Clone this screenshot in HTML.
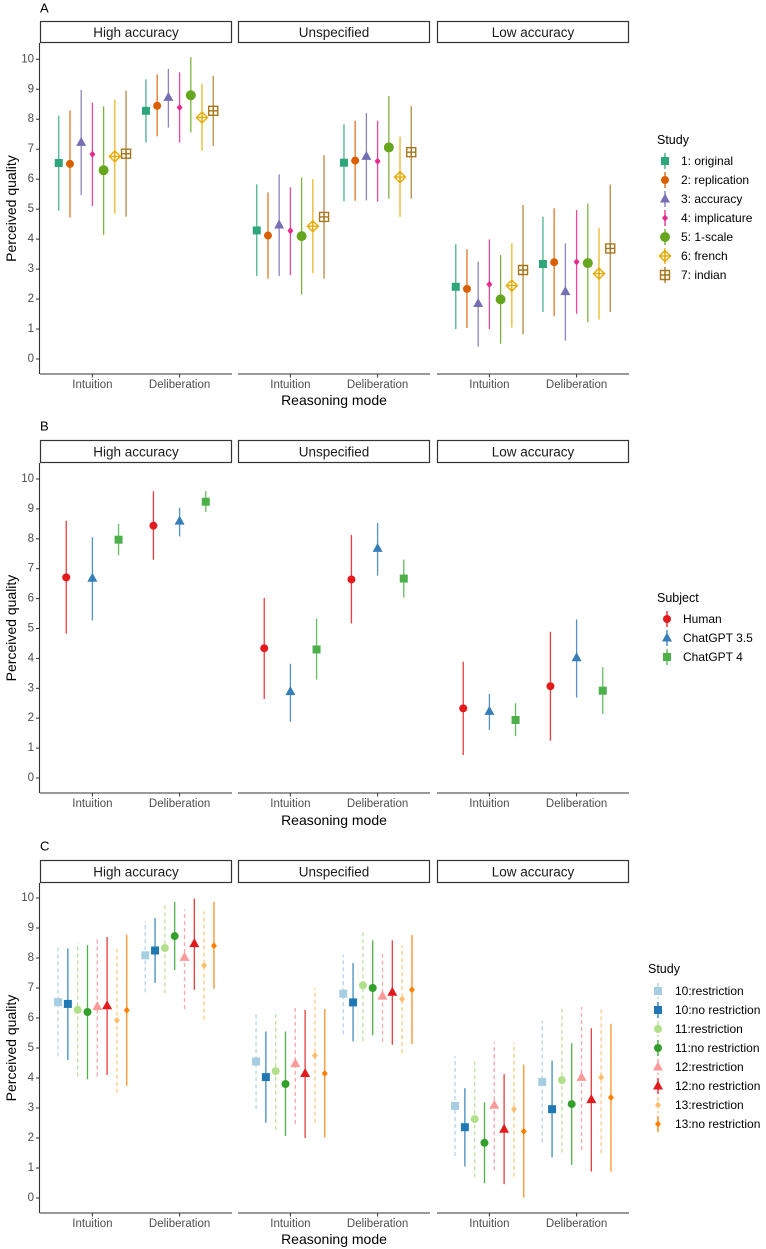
<!DOCTYPE html>
<html><head><meta charset="utf-8"><style>
html,body{margin:0;padding:0;background:#fff;}
svg{display:block;font-family:"Liberation Sans",Arial,sans-serif;}
</style></head><body>
<svg id="chart" width="766" height="1249" viewBox="0 0 766 1249" xmlns="http://www.w3.org/2000/svg"></svg>
<script>
const facets = ["High accuracy","Unspecified","Low accuracy"];
const modes = ["Intuition","Deliberation"];
const yTicks = [0,1,2,3,4,5,6,7,8,9,10];

// Panel A
const seriesA = ["1: original","2: replication","3: accuracy","4: implicature","5: 1-scale","6: french","7: indian"];
// [facet][mode][series] mean / lo / hi
const meanA = [
 [[6.54,6.51,7.23,6.83,6.30,6.76,6.85],[8.28,8.45,8.73,8.39,8.80,8.06,8.28]],
 [[4.29,4.12,4.47,4.28,4.10,4.43,4.74],[6.55,6.62,6.76,6.60,7.06,6.07,6.90]],
 [[2.41,2.34,1.85,2.49,1.99,2.45,2.97],[3.17,3.23,2.25,3.24,3.20,2.85,3.69]]];
const loA = [
 [[4.95,4.72,5.47,5.10,4.14,4.85,4.75],[7.22,7.43,7.72,7.22,7.56,6.95,7.11]],
 [[2.77,2.68,2.77,2.80,2.15,2.86,2.68],[5.26,5.28,5.29,5.25,5.35,4.74,5.35]],
 [[1.00,1.03,0.41,1.00,0.51,1.05,0.82],[1.57,1.43,0.61,1.51,1.23,1.31,1.57]]];
const hiA = [
 [[8.12,8.29,8.98,8.55,8.43,8.66,8.95],[9.33,9.49,9.68,9.57,10.07,9.19,9.45]],
 [[5.83,5.56,6.16,5.73,6.06,6.00,6.80],[7.83,7.95,8.20,7.95,8.78,7.42,8.44]],
 [[3.83,3.66,3.25,3.99,3.47,3.86,5.14],[4.75,5.03,3.86,4.97,5.19,4.38,5.82]]];

// Panel B
const seriesB = ["Human","ChatGPT 3.5","ChatGPT 4"];
const meanB = [[[6.71,6.68,7.97],[8.44,8.59,9.24]],[[4.34,2.89,4.30],[6.64,7.68,6.67]],[[2.33,2.23,1.94],[3.07,4.02,2.92]]];
const loB = [[[4.83,5.27,7.45],[7.30,8.08,8.90]],[[2.64,1.88,3.29],[5.17,6.77,6.03]],[[0.77,1.61,1.40],[1.25,2.69,2.14]]];
const hiB = [[[8.60,8.05,8.50],[9.59,9.04,9.60]],[[6.02,3.82,5.33],[8.13,8.53,7.30]],[[3.89,2.81,2.50],[4.89,5.30,3.71]]];

// Panel C
const seriesC = ["10:restriction","10:no restriction","11:restriction","11:no restriction","12:restriction","12:no restriction","13:restriction","13:no restriction"];
const meanC = [
 [[6.53,6.47,6.27,6.20,6.38,6.41,5.92,6.26],[8.09,8.25,8.33,8.73,8.02,8.48,7.75,8.41]],
 [[4.55,4.03,4.23,3.80,4.48,4.15,4.75,4.15],[6.81,6.52,7.09,7.00,6.73,6.86,6.63,6.94]],
 [[3.07,2.36,2.63,1.84,3.09,2.29,2.96,2.22],[3.87,2.96,3.93,3.13,4.02,3.28,4.02,3.35]]];
const loC = [
 [[4.72,4.60,4.05,3.96,4.05,4.10,3.51,3.74],[6.86,7.17,6.82,7.60,6.30,6.94,5.95,6.97]],
 [[2.96,2.51,2.27,2.07,2.47,2.00,2.51,2.02],[5.46,5.22,5.23,5.42,5.21,5.11,4.83,5.13]],
 [[1.40,1.05,0.69,0.49,0.93,0.46,0.71,0.02],[1.85,1.35,1.51,1.10,1.60,0.88,1.49,0.88]]];
const hiC = [
 [[8.34,8.32,8.50,8.43,8.63,8.70,8.33,8.78],[9.22,9.33,9.81,9.87,9.61,9.98,9.56,9.87]],
 [[6.16,5.55,6.18,5.55,6.41,6.27,7.00,6.30],[8.11,7.83,8.86,8.59,8.19,8.59,8.42,8.77]],
 [[4.72,3.66,4.57,3.19,5.19,4.13,5.18,4.44],[5.92,4.58,6.35,5.16,6.38,5.66,6.38,5.81]]];

const NS = "http://www.w3.org/2000/svg";
const svg = document.getElementById('chart');
function mk(tag, attrs, parent){ const e=document.createElementNS(NS,tag); for(const k in attrs) e.setAttribute(k,attrs[k]); (parent||svg).appendChild(e); return e; }

const panelX = [40,238,437];
const panelW = 192;
const modeOff = [52.4,139.6];
const dodgeW = 78.5;

function drawShape(g, shape, x, y, col){
  let e;
  if(shape==='square'){ e=mk('rect',{x:x-4,y:y-4,width:8,height:8,fill:col},g); }
  else if(shape==='circle'){ e=mk('circle',{cx:x,cy:y,r:4,fill:col},g); }
  else if(shape==='bigcircle'){ e=mk('circle',{cx:x,cy:y,r:5,fill:col},g); }
  else if(shape==='triangle'){ e=mk('path',{d:`M${x},${y-5.5}L${x+5},${y+3.5}L${x-5},${y+3.5}Z`,fill:col},g); }
  else if(shape==='dot'){ e=mk('path',{d:`M${x},${y-3.5}L${x+3},${y}L${x},${y+3.5}L${x-3},${y}Z`,fill:col},g); }
  else if(shape==='diamondplus'){ e=mk('path',{d:`M${x},${y-5.5}L${x+5.5},${y}L${x},${y+5.5}L${x-5.5},${y}Z M${x},${y-5.5}V${y+5.5} M${x-5.5},${y}H${x+5.5}`,fill:'none',stroke:col,'stroke-width':1.4},g); }
  else if(shape==='squareplus'){ e=mk('path',{d:`M${x-4.5},${y-4.5}h9v9h-9Z M${x},${y-4.5}V${y+4.5} M${x-4.5},${y}H${x+4.5}`,fill:'none',stroke:col,'stroke-width':1.4},g); }
  return e;
}

function panel(cfg){
  const yS = v => cfg.y0 - v*(cfg.y0-cfg.y10)/10;
  const g = mk('g',{});
  
  
  const lt = mk('text',{x:40,y:cfg.letterY,'font-size':13,fill:'#000','dominant-baseline':'central'},g);
  
  
  lt.textContent = cfg.letter;
  // y axis
  mk('line',{x1:39.5,y1:cfg.stripBot,x2:39.5,y2:cfg.axisY,stroke:'#333','stroke-width':1.1},g);
  yTicks.forEach(t=>{
    const y=yS(t);
    mk('line',{x1:36,y1:y,x2:39.5,y2:y,stroke:'#333','stroke-width':1},g);
    const tx=mk('text',{x:34,y:y,'font-size':11.5,fill:'#4d4d4d','text-anchor':'end','dominant-baseline':'central'},g);
    
    
    tx.textContent=t;
  });
  const yt=mk('text',{x:0,y:0,'font-size':14,fill:'#000','text-anchor':'middle','dominant-baseline':'central',transform:`translate(11,${(cfg.stripBot+cfg.axisY)/2}) rotate(-90)`},g);
  
  
  yt.textContent='Perceived quality';
  const xt=mk('text',{x:334,y:cfg.titleY,'font-size':14,fill:'#000','text-anchor':'middle','dominant-baseline':'central'},g);
  
  
  xt.textContent='Reasoning mode';
  const n = cfg.series.length;
  const step = dodgeW/n;
  facets.forEach((f,fi)=>{
    const px = panelX[fi];
    const st = mk('rect',{x:px+0.5,y:cfg.stripTop+0.5,width:panelW-1,height:cfg.stripBot-cfg.stripTop-1,fill:'#fff',stroke:'#333','stroke-width':1.2},g);
    
    
    const stt=mk('text',{x:px+panelW/2,y:(cfg.stripTop+cfg.stripBot)/2+0.5,'font-size':13.5,fill:'#1a1a1a','text-anchor':'middle','dominant-baseline':'central'},g);
    
    
    stt.textContent=f;
    mk('line',{x1:px,y1:cfg.axisY,x2:px+panelW,y2:cfg.axisY,stroke:'#333','stroke-width':1.1},g);
    modes.forEach((m,mi)=>{
      const cx = px+modeOff[mi];
      mk('line',{x1:cx,y1:cfg.axisY,x2:cx,y2:cfg.axisY+3.5,stroke:'#333','stroke-width':1},g);
      const ml=mk('text',{x:cx,y:cfg.tickY,'font-size':11.5,fill:'#4d4d4d','text-anchor':'middle','dominant-baseline':'central'},g);
      
      
      ml.textContent=m;
      for(let s=0;s<n;s++){
        const x = cx + (s-(n-1)/2)*step;
        const col = cfg.colors[s];
        const ln = mk('line',{x1:x,y1:yS(cfg.lo[fi][mi][s]),x2:x,y2:yS(cfg.hi[fi][mi][s]),stroke:col,'stroke-width':1.3,'stroke-opacity':0.85},g);
        if(cfg.dashed && cfg.dashed[s]) ln.setAttribute('stroke-dasharray','4,3');
        
        
        const p = drawShape(g,cfg.shapes[s],x,yS(cfg.mean[fi][mi][s]),col);
        
        
      }
    });
  });
  // legend
  const lg = mk('g',{},g);
  
  
  const lgt=mk('text',{x:cfg.legX,y:cfg.legTitleY,'font-size':12.5,fill:'#000','dominant-baseline':'central'},lg);
  
  
  lgt.textContent=cfg.legTitle;
  cfg.series.forEach((s,i)=>{
    const y = cfg.legY0 + i*19;
    const kx = cfg.legKeyX;
    const kl=mk('line',{x1:kx,y1:y-8,x2:kx,y2:y+8,stroke:cfg.colors[i],'stroke-width':1.3},lg);
    if(cfg.dashed && cfg.dashed[i]) kl.setAttribute('stroke-dasharray','4,3');
    drawShape(lg,cfg.shapes[i],kx,y,cfg.colors[i]);
    const tx=mk('text',{x:cfg.legTextX,y:y,'font-size':12,fill:'#000','dominant-baseline':'central'},lg);
    
    
    tx.textContent=s;
  });
}

panel({id:'a',letter:'A',letterY:8,stripTop:21,stripBot:43,y10:59.3,y0:359,axisY:374,tickY:385,titleY:400,
  series:seriesA,mean:meanA,lo:loA,hi:hiA,
  colors:['#2ea67a','#d95f02','#7570b3','#e7298a','#66a61e','#e6ab02','#a6761d'],
  shapes:['square','circle','triangle','dot','bigcircle','diamondplus','squareplus'],
  legTitle:'Study',legX:657,legTitleY:140,legY0:161,legKeyX:665,legTextX:681});
panel({id:'b',letter:'B',letterY:426,stripTop:440,stripBot:463,y10:479,y0:778,axisY:793,tickY:804,titleY:820,
  series:seriesB,mean:meanB,lo:loB,hi:hiB,
  colors:['#e41a1c','#377eb8','#4daf4a'],
  shapes:['circle','triangle','square'],
  legTitle:'Subject',legX:657,legTitleY:598,legY0:619,legKeyX:667,legTextX:683});
panel({id:'c',letter:'C',letterY:846,stripTop:860,stripBot:883,y10:898,y0:1198,axisY:1213,tickY:1224,titleY:1239,
  series:seriesC,mean:meanC,lo:loC,hi:hiC,
  colors:['#a6cee3','#1f78b4','#b2df8a','#33a02c','#fb9a99','#e31a1c','#fdbf6f','#ff7f00'],
  shapes:['square','square','circle','circle','triangle','triangle','dot','dot'],
  dashed:[1,0,1,0,1,0,1,0],
  legTitle:'Study',legX:648,legTitleY:969,legY0:991,legKeyX:658,legTextX:675});
</script>
</body></html>
